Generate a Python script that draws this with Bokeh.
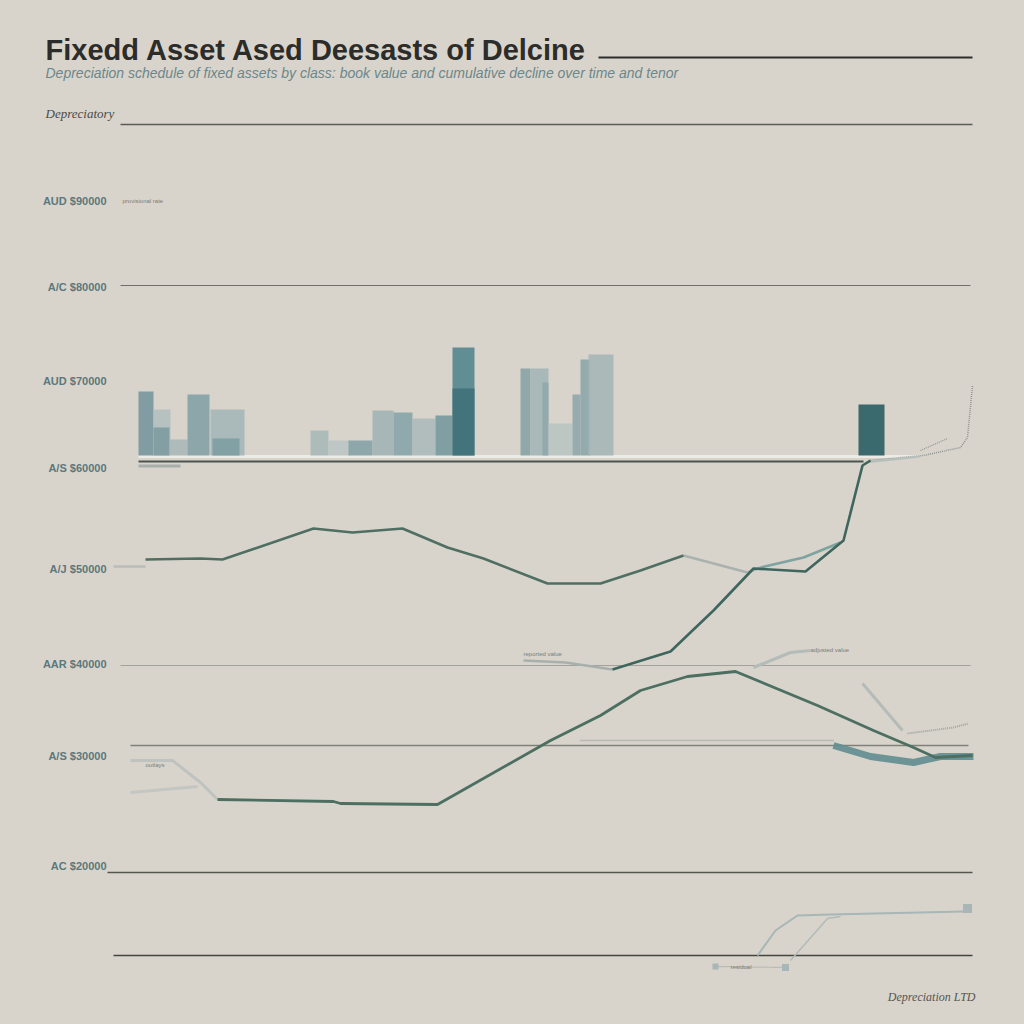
from bokeh.plotting import figure
from bokeh.models import Range1d, ColumnDataSource
from bokeh.core.properties import value
from bokeh.embed import file_html
from bokeh.resources import INLINE

# ---------------- data ----------------
title_text = "Fixedd Asset Ased Deesasts of Delcine"
subtitle_text = "Depreciation schedule of fixed assets by class: book value and cumulative decline over time and tenor"
axis_title = "Depreciatory"
footer_text = "Depreciation LTD"

tick_values = [77.0, 68.4, 59.0, 50.3, 40.2, 30.7, 21.5, 10.5]
tick_labels = ["AUD $90000", "A/C $80000", "AUD $70000", "A/S $60000",
               "A/J $50000", "AAR $40000", "A/S $30000", "AC $20000"]

# reference levels (horizontal rules)
rule_y = [84.6, 68.5, 51.4, 50.9, 30.5, 22.5, 9.8, 1.5]
rule_x0 = [2.0, 2.0, 3.8, 3.8, 2.0, 3.0, 0.7, 1.3]
rule_x1 = [87.2, 87.0, 82.0, 76.3, 87.0, 86.8, 87.2, 87.2]
rule_color = ["#5a5a56", "#6e6e6a", "#ecebe6", "#4b5551", "#a3a39d", "#80807b", "#55554f", "#45453f"]
rule_width = [1.3, 1.2, 3.0, 2.2, 1.0, 1.5, 1.3, 1.6]

# bars (period spans and book values)
bar_base = 51.5
bar_left = [3.8, 5.3, 5.3, 6.9, 8.7, 11.0, 11.2, 21.0, 22.8, 24.8, 27.2, 29.3, 31.2, 33.5,
            35.2, 35.2, 42.0, 43.0, 44.2, 44.8, 47.2, 48.0, 48.8, 75.8]
bar_right = [5.3, 7.0, 6.9, 8.7, 10.9, 14.4, 13.9, 22.8, 25.0, 27.2, 29.3, 31.2, 33.5, 35.2,
             37.4, 37.4, 43.0, 44.8, 44.8, 47.2, 48.0, 49.0, 51.3, 78.4]
bar_value = [57.9, 56.1, 54.3, 53.1, 57.6, 56.1, 53.2, 54.0, 53.0, 53.0, 56.0, 55.8, 55.2, 55.5,
             62.3, 58.2, 60.2, 60.2, 58.8, 54.7, 57.6, 61.1, 61.6, 56.6]
bar_color = ["#7a98a0", "#b4c0bf", "#7f9ca2", "#aab8b8", "#86a2a6", "#a6b6b7", "#7f9ea3",
             "#a9b8b8", "#bcc6c4", "#88a3a7", "#a3b4b6", "#8aa5a9", "#adbbbb", "#789aa0",
             "#578790", "#41727a", "#8ba4a8", "#a5b5b6", "#90a8ab", "#bac4c2", "#90a8ab",
             "#8ea7aa", "#a7b6b7", "#2c6165"]

# series 1 (upper line)
s1_x = [4.5, 10.0, 12.2, 21.3, 25.2, 30.2, 34.7, 38.3, 44.7, 50.0, 54.0, 58.3]
s1_y = [41.1, 41.2, 41.1, 44.2, 43.8, 44.2, 42.3, 41.2, 38.7, 38.7, 40.0, 41.5]
s1_tail_x = [58.3, 64.7, 66.0]
s1_tail_y = [41.5, 39.8, 40.3]
s1_teal_x = [66.0, 70.3, 74.0]
s1_teal_y = [40.3, 41.3, 42.8]
s1_lead_x = [1.3, 4.5]
s1_lead_y = [40.4, 40.4]

# series 2 (rising line)
s2_x = [51.2, 57.0, 61.3, 65.3, 70.5, 74.3, 76.2, 77.0]
s2_y = [30.1, 31.9, 36.0, 40.2, 39.9, 43.0, 50.5, 51.0]
s2_lead_x = [42.3, 46.5, 51.2]
s2_lead_y = [31.0, 30.8, 30.1]

# series 3 (lower line)
s3_x = [11.7, 23.3, 24.0, 33.7, 45.0, 50.0, 54.0, 58.7, 63.5, 71.7, 77.3, 81.3, 83.5, 87.2]
s3_y = [17.1, 16.9, 16.7, 16.6, 23.0, 25.5, 28.0, 29.4, 29.9, 26.5, 24.0, 22.3, 21.3, 21.5]
s3_band_x = [73.3, 77.0, 81.3, 84.0, 87.3]
s3_band_y = [22.5, 21.4, 20.8, 21.4, 21.4]
s3_lead_x = [3.0, 7.2, 10.0, 11.7]
s3_lead_y = [21.0, 21.0, 18.8, 17.1]
s3_lead2_x = [3.0, 9.7]
s3_lead2_y = [17.8, 18.4]

# faint auxiliary series
aux1_x = [65.3, 69.0, 71.0]
aux1_y = [30.3, 31.8, 32.0]
aux2_x = [76.2, 80.2]
aux2_y = [28.7, 24.0]
aux2_dot_x = [80.7, 85.3, 86.8]
aux2_dot_y = [23.7, 24.3, 24.7]
aux3_x = [48.0, 73.3]
aux3_y = [23.0, 23.0]
aux4_x = [76.8, 82.3, 86.0, 86.7, 87.2]
aux4_y = [51.0, 51.5, 52.3, 53.3, 58.5]
aux5_x = [82.0, 84.7]
aux5_y = [52.0, 53.2]
aux6_x = [76.5, 82.0]
aux6_y = [50.8, 51.4]

# bottom series
b1_x = [65.7, 67.5, 69.7, 73.0, 86.3]
b1_y = [1.5, 4.0, 5.5, 5.6, 5.9]
b2_x = [69.0, 72.7, 74.0]
b2_y = [1.0, 5.2, 5.4]
b3_x = [61.3, 68.7]
b3_y = [0.4, 0.3]
bm_x = [86.7, 61.5, 68.5]
bm_y = [6.2, 0.4, 0.3]

note_x = [2.2, 42.3, 71.0, 4.5, 63.0]
note_y = [77.0, 31.7, 32.1, 20.6, 0.4]
note_text = ["provisional rate", "reported value", "adjusted value", "outlays", "residual"]

# ---------------- figure ----------------
BG = "#d9d4cb"
p = figure(width=1008, height=1008, output_backend="svg", toolbar_location=None,
           x_range=Range1d(-10.0, 90.8), y_range=Range1d(-3.8, 97.0), min_border=0)
p.background_fill_color = BG
p.border_fill_color = BG
p.outline_line_color = None
p.axis.visible = False
p.grid.visible = False

# rules
p.segment(x0=rule_x0, x1=rule_x1, y0=rule_y, y1=rule_y, line_color=rule_color, line_width=rule_width)
# title rule
p.segment(x0=[49.8], x1=[87.2], y0=[91.3], y1=[91.3], line_color="#2e2e2c", line_width=2)

# bars
src = ColumnDataSource(dict(left=bar_left, right=bar_right, top=bar_value,
                            bottom=[bar_base] * len(bar_value), color=bar_color))
p.quad(left="left", right="right", top="top", bottom="bottom", source=src,
       fill_color="color", fill_alpha=0.92, line_color=None)
p.quad(left=[3.8], right=[8.0], top=[50.6], bottom=[50.3], fill_color="#9aa4a4", line_color=None, fill_alpha=0.8)

# faint lines
p.line(s1_lead_x, s1_lead_y, line_color="#b9bcb8", line_width=2.5)
p.line(s1_tail_x, s1_tail_y, line_color="#a9b2ae", line_width=2.5)
p.line(s1_teal_x, s1_teal_y, line_color="#7ea3a0", line_width=2.5)
p.line(s2_lead_x, s2_lead_y, line_color="#a8b0ad", line_width=2.5)
p.line(s3_lead_x, s3_lead_y, line_color="#bfc3bf", line_width=3)
p.line(s3_lead2_x, s3_lead2_y, line_color="#c3c6c2", line_width=3)
p.line(aux1_x, aux1_y, line_color="#b3bcb9", line_width=3)
p.line(aux2_x, aux2_y, line_color="#b4bbb8", line_width=3)
p.line(aux2_dot_x, aux2_dot_y, line_color="#9ea6a4", line_width=2, line_dash="1 1")
p.line(aux3_x, aux3_y, line_color="#9a9f9c", line_width=1.5, line_dash="1 1")
p.line(aux4_x, aux4_y, line_color="#8e9592", line_width=1.5, line_dash="1 1")
p.line(aux5_x, aux5_y, line_color="#8e9592", line_width=1.2, line_dash="1 1")
p.line(aux6_x, aux6_y, line_color="#b7bfbc", line_width=2)
p.line(b1_x, b1_y, line_color="#a7b6b6", line_width=2)
p.line(b2_x, b2_y, line_color="#b1bbba", line_width=1.5)
p.line(b3_x, b3_y, line_color="#9aa3a3", line_width=1.2, line_dash="1 1")
p.scatter(bm_x, bm_y, marker="square", size=[9, 6, 7], fill_color="#a9b6b8", line_color=None)

# teal band
p.line(s3_band_x, s3_band_y, line_color="#5f8d90", line_width=7, line_alpha=0.9)

# main series
p.line(s1_x, s1_y, line_color="#4f6f63", line_width=2.6)
p.line(s2_x, s2_y, line_color="#3f665e", line_width=2.6)
p.line(s3_x, s3_y, line_color="#4c6f61", line_width=2.8)

# texts
p.text(x=[-5.5], y=[92.1], text=[title_text], text_font=value("Liberation Sans"),
       text_font_style="bold", text_font_size="29px", text_color="#2c2c2a",
       text_baseline="alphabetic", text_align="left")
p.text(x=[-5.5], y=[89.8], text=[subtitle_text], text_font=value("Liberation Sans"),
       text_font_style="italic", text_font_size="14px", text_color="#6a878b",
       text_baseline="alphabetic", text_align="left")
p.text(x=[-5.5], y=[85.7], text=[axis_title], text_font=value("Liberation Serif"),
       text_font_style="italic", text_font_size="13px", text_color="#4a4a46",
       text_baseline="alphabetic", text_align="left")
p.text(x=[0.6] * len(tick_values), y=tick_values, text=tick_labels,
       text_font=value("Liberation Sans"), text_font_style="bold",
       text_font_size="11px", text_color="#5a787d",
       text_baseline="middle", text_align="right")
p.text(x=[87.5], y=[-2.6], text=[footer_text], text_font=value("Liberation Serif"),
       text_font_style="italic", text_font_size="12px", text_color="#555550",
       text_baseline="alphabetic", text_align="right")
p.text(x=note_x, y=note_y, text=note_text, text_font=value("Liberation Sans"),
       text_font_size="6px", text_color="#777c7a", text_baseline="middle", text_align="left")

html = file_html(p, INLINE)
html = html.replace("<head>", "<head><style>html, body { background: " + BG + "; }</style>", 1)
open("out.html", "w").write(html)
